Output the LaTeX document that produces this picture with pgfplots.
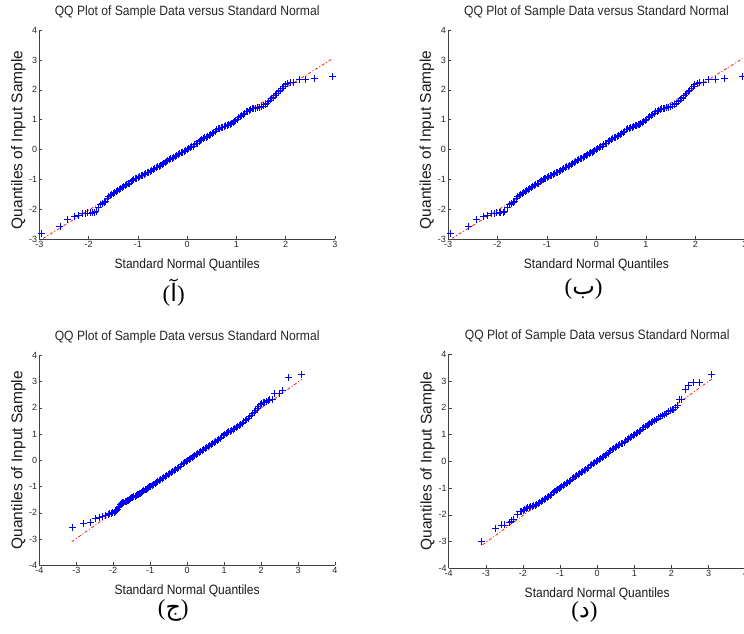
\documentclass[border=0pt]{standalone}
\usepackage{graphicx}
\usepackage{fontspec}
\setmainfont{Liberation Sans}
\newfontfamily\arabicfont[Script=Arabic]{DejaVu Sans}
\newfontfamily\seriffont{Liberation Serif}
\TeXXeTstate=1
\usepackage{pgfplots}
\usepackage{pgfplotstable}
\pgfplotsset{compat=1.18}

\pgfplotstableread{
x y
-2.95 -2.81
-2.58 -2.56
-2.42 -2.33
-2.28 -2.24
-2.20 -2.20
-2.13 -2.15
-2.07 -2.13
-2.02 -2.12
-1.97 -2.12
-1.93 -2.11
-1.88 -2.10
-1.85 -2.08
-1.80 -1.92
-1.76 -1.85
-1.72 -1.80
-1.68 -1.76
-1.65 -1.73
-1.62 -1.62
-1.59 -1.56
-1.56 -1.52
-1.53 -1.50
-1.50 -1.47
-1.47 -1.44
-1.44 -1.40
-1.41 -1.37
-1.38 -1.34
-1.35 -1.31
-1.32 -1.28
-1.29 -1.24
-1.26 -1.21
-1.23 -1.18
-1.20 -1.15
-1.17 -1.12
-1.14 -1.08
-1.11 -1.04
-1.08 -1.00
-1.05 -0.97
-1.02 -0.95
-0.99 -0.93
-0.96 -0.91
-0.93 -0.88
-0.90 -0.86
-0.87 -0.83
-0.84 -0.80
-0.81 -0.78
-0.78 -0.76
-0.75 -0.73
-0.72 -0.70
-0.69 -0.67
-0.66 -0.64
-0.63 -0.61
-0.60 -0.58
-0.57 -0.55
-0.54 -0.52
-0.51 -0.49
-0.48 -0.46
-0.45 -0.43
-0.42 -0.40
-0.39 -0.37
-0.36 -0.34
-0.33 -0.31
-0.30 -0.29
-0.27 -0.26
-0.24 -0.23
-0.21 -0.20
-0.18 -0.17
-0.15 -0.14
-0.12 -0.11
-0.09 -0.08
-0.06 -0.05
-0.03 -0.02
0.00 0.00
0.03 0.03
0.06 0.06
0.09 0.09
0.12 0.12
0.15 0.16
0.18 0.19
0.21 0.22
0.24 0.26
0.27 0.30
0.30 0.33
0.33 0.36
0.36 0.39
0.39 0.42
0.42 0.45
0.45 0.48
0.48 0.51
0.51 0.54
0.54 0.58
0.57 0.62
0.60 0.66
0.63 0.69
0.66 0.71
0.69 0.73
0.72 0.75
0.75 0.77
0.78 0.79
0.81 0.81
0.84 0.83
0.87 0.85
0.90 0.87
0.93 0.90
0.96 0.93
0.99 0.97
1.02 1.02
1.05 1.06
1.08 1.10
1.11 1.14
1.14 1.18
1.17 1.22
1.20 1.26
1.23 1.29
1.26 1.32
1.29 1.34
1.32 1.36
1.35 1.38
1.38 1.39
1.42 1.41
1.46 1.42
1.50 1.44
1.54 1.46
1.58 1.50
1.62 1.54
1.65 1.60
1.69 1.66
1.72 1.71
1.75 1.76
1.79 1.82
1.82 1.87
1.86 1.93
1.89 1.98
1.93 2.05
1.96 2.10
1.99 2.17
2.04 2.22
2.09 2.24
2.16 2.25
2.27 2.33
2.40 2.33
2.58 2.37
2.95 2.45
}\dataA

\pgfplotstableread{
x y
-3.10 -2.55
-2.80 -2.41
-2.62 -2.35
-2.49 -2.22
-2.38 -2.18
-2.28 -2.14
-2.20 -2.10
-2.14 -2.06
-2.09 -2.03
-2.05 -2.01
-2.01 -1.99
-1.98 -1.97
-1.95 -1.95
-1.92 -1.92
-1.89 -1.86
-1.86 -1.80
-1.83 -1.74
-1.80 -1.69
-1.77 -1.65
-1.74 -1.62
-1.71 -1.60
-1.68 -1.58
-1.65 -1.56
-1.62 -1.54
-1.59 -1.52
-1.56 -1.49
-1.53 -1.46
-1.50 -1.43
-1.47 -1.40
-1.44 -1.38
-1.41 -1.36
-1.38 -1.34
-1.35 -1.32
-1.32 -1.30
-1.29 -1.28
-1.26 -1.25
-1.23 -1.22
-1.20 -1.19
-1.17 -1.16
-1.14 -1.13
-1.11 -1.10
-1.08 -1.07
-1.05 -1.04
-1.02 -1.01
-0.99 -0.98
-0.95 -0.95
-0.91 -0.92
-0.87 -0.88
-0.83 -0.84
-0.79 -0.80
-0.75 -0.77
-0.71 -0.73
-0.67 -0.70
-0.63 -0.66
-0.59 -0.62
-0.55 -0.58
-0.51 -0.54
-0.47 -0.50
-0.43 -0.46
-0.39 -0.42
-0.35 -0.38
-0.31 -0.34
-0.27 -0.30
-0.23 -0.26
-0.19 -0.22
-0.15 -0.17
-0.11 -0.13
-0.07 -0.09
-0.03 -0.05
0.01 -0.01
0.05 0.03
0.09 0.06
0.13 0.10
0.17 0.14
0.21 0.18
0.25 0.21
0.29 0.25
0.33 0.29
0.37 0.33
0.41 0.37
0.45 0.41
0.49 0.45
0.53 0.49
0.57 0.53
0.61 0.57
0.65 0.61
0.69 0.65
0.73 0.69
0.77 0.73
0.81 0.77
0.85 0.81
0.89 0.85
0.93 0.89
0.97 0.93
1.01 0.97
1.05 1.01
1.09 1.05
1.13 1.08
1.17 1.11
1.21 1.14
1.25 1.17
1.29 1.21
1.33 1.25
1.37 1.29
1.41 1.33
1.45 1.37
1.49 1.41
1.53 1.46
1.57 1.51
1.61 1.56
1.65 1.61
1.69 1.66
1.73 1.72
1.77 1.78
1.81 1.84
1.85 1.90
1.90 1.98
1.94 2.05
1.98 2.12
2.02 2.16
2.06 2.20
2.10 2.22
2.15 2.25
2.20 2.28
2.24 2.31
2.30 2.33
2.36 2.54
2.49 2.56
2.58 2.67
2.74 3.15
3.10 3.28
}\dataC

\pgfplotstableread{
x y
-3.11 -3.00
-2.75 -2.50
-2.59 -2.38
-2.50 -2.38
-2.37 -2.30
-2.32 -2.23
-2.26 -2.19
-2.15 -1.97
-2.08 -1.88
-2.03 -1.86
-1.99 -1.84
-1.95 -1.80
-1.91 -1.77
-1.87 -1.74
-1.83 -1.72
-1.79 -1.70
-1.75 -1.68
-1.71 -1.66
-1.67 -1.64
-1.63 -1.61
-1.59 -1.58
-1.55 -1.54
-1.51 -1.50
-1.47 -1.45
-1.43 -1.42
-1.39 -1.39
-1.35 -1.35
-1.31 -1.32
-1.27 -1.28
-1.23 -1.23
-1.19 -1.18
-1.15 -1.14
-1.11 -1.09
-1.07 -1.05
-1.03 -1.01
-0.99 -0.98
-0.95 -0.94
-0.91 -0.90
-0.87 -0.86
-0.83 -0.82
-0.79 -0.78
-0.75 -0.74
-0.71 -0.70
-0.67 -0.66
-0.63 -0.62
-0.59 -0.58
-0.55 -0.54
-0.51 -0.50
-0.47 -0.46
-0.43 -0.42
-0.39 -0.38
-0.35 -0.34
-0.31 -0.30
-0.27 -0.26
-0.23 -0.22
-0.19 -0.17
-0.15 -0.13
-0.11 -0.09
-0.07 -0.05
-0.03 -0.01
0.01 0.03
0.05 0.07
0.09 0.11
0.13 0.15
0.17 0.19
0.21 0.23
0.25 0.27
0.29 0.31
0.33 0.35
0.37 0.40
0.41 0.44
0.45 0.49
0.49 0.53
0.53 0.56
0.57 0.59
0.61 0.62
0.65 0.65
0.69 0.68
0.73 0.72
0.77 0.76
0.81 0.80
0.85 0.85
0.89 0.89
0.93 0.93
0.97 0.97
1.01 1.01
1.05 1.05
1.09 1.09
1.13 1.13
1.17 1.17
1.21 1.21
1.25 1.25
1.29 1.29
1.34 1.33
1.38 1.37
1.42 1.42
1.46 1.46
1.50 1.50
1.55 1.54
1.60 1.58
1.65 1.62
1.70 1.67
1.75 1.71
1.80 1.76
1.86 1.80
1.92 1.85
1.97 1.89
2.02 1.92
2.06 1.94
2.10 2.02
2.15 2.10
2.22 2.32
2.28 2.32
2.37 2.67
2.46 2.85
2.58 2.94
2.75 2.94
3.09 3.26
}\dataD

\newcommand{\qqtitle}{\scalebox{0.9}[1]{QQ Plot of Sample Data versus Standard Normal}}
\newcommand{\qqxlabel}{\scalebox{0.89}[1]{Standard Normal Quantiles}}
\newcommand{\arlabel}[1]{{\seriffont\fontsize{23}{26}\selectfont(\mbox{\arabicfont\fontsize{24}{26}\selectfont\beginR #1\endR})}}

\pgfplotsset{
  qq/.style={
    scale only axis,
    anchor=south west,
    clip=false,
    axis x line*=bottom,
    axis y line*=left,
    axis line style={line width=0.8pt, black!75},
    tick align=inside,
    major tick length=3pt,
    tick style={black!75, line width=0.5pt},
    ticklabel style={font=\fontsize{9}{9}\selectfont, text=black!85},
    xticklabel style={inner sep=1.5pt},
    yticklabel style={inner sep=2pt},
    /pgf/number format/assume math mode=true,
    title style={at={(axis description cs:0.5,1)}, anchor=base, yshift=8.5pt,
                 font=\fontsize{13.5}{14}\selectfont, text=black!85},
    xlabel style={at={(axis description cs:0.5,0)}, anchor=base, yshift=-29pt,
                  font=\fontsize{13.5}{14}\selectfont, text=black!90},
    ylabel style={anchor=base, font=\fontsize{15.5}{16}\selectfont, text=black!90},
    title=\qqtitle,
    xlabel=\qqxlabel,
    ylabel={Quantiles of Input Sample},
  },
  refline/.style={red, line width=0.7pt, dash pattern=on 3pt off 2pt on 1pt off 2pt},
  pts/.style={only marks, mark=+, mark size=3.5pt, blue, mark options={line width=0.9pt}},
}

\begin{document}
\begin{tikzpicture}
\path[use as bounding box] (0pt,0pt) rectangle (744pt,-633pt);

% top left
\begin{axis}[qq, at={(39.3pt,-239.3pt)}, width=295.7pt, height=209.3pt,
  xmin=-3, xmax=3, ymin=-3, ymax=4, xtick={-3,...,3}, ytick={-3,...,4},
  ylabel style={at={(axis description cs:-0.0575,0.475)}}]
\addplot[refline] coordinates {(-2.92,-2.97) (2.93,3.02)};
\addplot[pts] table[x=x,y=y] {\dataA};
\node at (axis description cs:0.4545,-0.254) {\arlabel{آ}};
\end{axis}

% top right
\begin{axis}[qq, at={(448pt,-239.3pt)}, width=296.8pt, height=209.3pt,
  xmin=-3, xmax=3, ymin=-3, ymax=4, xtick={-3,...,3}, ytick={-3,...,4},
  ylabel style={at={(axis description cs:-0.0575,0.475)}}]
\addplot[refline] coordinates {(-2.92,-2.97) (2.95,3.04)};
\addplot[pts] table[x=x,y=y] {\dataA};
\node at (axis description cs:0.457,-0.235) {\arlabel{ب}};
\end{axis}

% bottom left
\begin{axis}[qq, at={(39.3pt,-565.3pt)}, width=295.7pt, height=210pt,
  xmin=-4, xmax=4, ymin=-4, ymax=4, xtick={-4,...,4}, ytick={-4,...,4},
  ylabel style={at={(axis description cs:-0.0575,0.5)}}]
\addplot[refline] coordinates {(-3.12,-3.1) (3.1,3.08)};
\addplot[pts] table[x=x,y=y] {\dataC};
\node at (axis description cs:0.453,-0.215) {\arlabel{ج}};
\end{axis}

% bottom right
\begin{axis}[qq, at={(448.7pt,-568.3pt)}, width=297pt, height=214pt,
  xmin=-4, xmax=4, ymin=-4, ymax=4, xtick={-4,...,4}, ytick={-4,...,4},
  ylabel style={at={(axis description cs:-0.0575,0.5)}}]
\addplot[refline] coordinates {(-3.09,-3.12) (3.09,3.08)};
\addplot[pts] table[x=x,y=y] {\dataD};
\node at (axis description cs:0.457,-0.205) {\arlabel{د}};
\end{axis}
\end{tikzpicture}
\end{document}
